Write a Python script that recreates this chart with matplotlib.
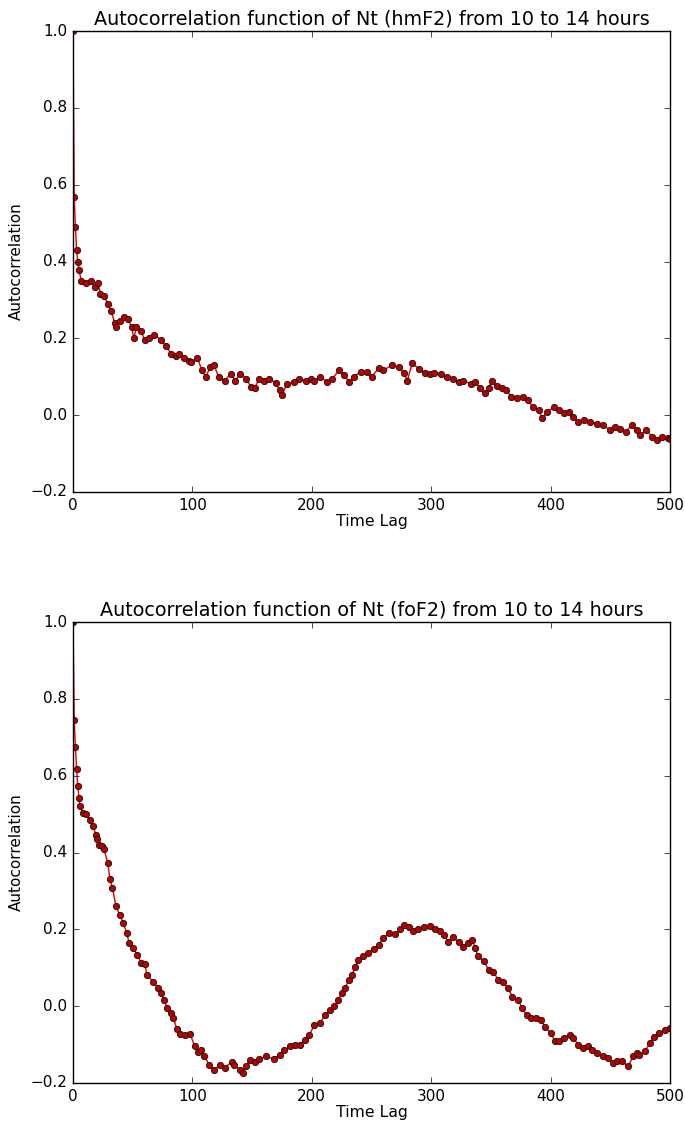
import matplotlib
matplotlib.use("Agg")
import matplotlib.pyplot as plt

# autocorrelation of Nt (hmF2), 10-14 h
lags_hm = [0, 1, 2, 3, 4, 5, 7, 11, 15, 18, 21, 23, 26, 29, 32, 35, 36, 39, 43, 46,
           49, 51, 53, 57, 60, 64, 68, 74, 78, 82, 86, 89, 93, 97, 99, 104, 108, 111,
           115, 118, 122, 127, 132, 136, 140, 145, 149, 152, 156, 160, 164, 170, 173,
           175, 179, 185, 189, 195, 199, 202, 207, 213, 217, 223, 227, 231, 235, 241,
           246, 250, 256, 260, 267, 273, 277, 280, 284, 290, 295, 299, 302, 308, 313,
           318, 323, 327, 333, 337, 341, 345, 348, 351, 355, 359, 363, 367, 372, 377,
           381, 385, 390, 393, 397, 403, 407, 411, 415, 419, 423, 428, 433, 439, 444,
           450, 454, 458, 463, 468, 472, 475, 480, 485, 489, 493, 498, 500]
acf_hm = [1.0, 0.567, 0.489, 0.43, 0.40, 0.377, 0.35, 0.343, 0.35, 0.333, 0.343, 0.316,
          0.31, 0.29, 0.27, 0.24, 0.23, 0.245, 0.255, 0.25, 0.23, 0.20, 0.23, 0.22,
          0.195, 0.20, 0.21, 0.195, 0.18, 0.16, 0.155, 0.16, 0.15, 0.14, 0.138, 0.15,
          0.117, 0.10, 0.125, 0.13, 0.10, 0.09, 0.108, 0.09, 0.108, 0.095, 0.074, 0.07,
          0.095, 0.09, 0.095, 0.083, 0.065, 0.052, 0.08, 0.087, 0.095, 0.09, 0.095,
          0.09, 0.10, 0.087, 0.095, 0.117, 0.105, 0.087, 0.10, 0.113, 0.113, 0.10,
          0.122, 0.117, 0.13, 0.125, 0.11, 0.09, 0.135, 0.12, 0.11, 0.108, 0.11, 0.108,
          0.10, 0.095, 0.087, 0.09, 0.082, 0.087, 0.07, 0.057, 0.07, 0.09, 0.075, 0.07,
          0.065, 0.048, 0.045, 0.048, 0.039, 0.022, 0.013, -0.008, 0.008, 0.022, 0.013,
          0.005, 0.009, -0.004, -0.017, -0.013, -0.017, -0.022, -0.026, -0.039, -0.03,
          -0.035, -0.043, -0.026, -0.039, -0.052, -0.039, -0.056, -0.065, -0.056,
          -0.06, -0.062]

# autocorrelation of Nt (foF2), 10-14 h
lags_fo = [0, 1, 2, 3, 4, 5, 6, 8, 11, 14, 17, 19, 20, 22, 24, 26, 29, 31, 33, 36, 39,
           42, 45, 47, 50, 54, 57, 60, 62, 67, 71, 74, 76, 79, 82, 84, 87, 90, 94, 98,
           102, 105, 107, 110, 114, 118, 123, 127, 133, 135, 140, 142, 145, 148, 152,
           156, 162, 168, 173, 177, 182, 186, 190, 194, 198, 202, 207, 211, 215, 219,
           222, 225, 228, 231, 234, 236, 239, 243, 247, 252, 256, 260, 265, 270, 274,
           277, 281, 285, 289, 294, 299, 303, 307, 311, 314, 318, 323, 327, 331, 334,
           337, 339, 344, 348, 352, 356, 360, 364, 368, 373, 376, 380, 384, 388, 392,
           395, 400, 404, 407, 411, 416, 419, 423, 427, 431, 435, 439, 444, 448, 452,
           456, 460, 465, 469, 472, 474, 479, 483, 487, 491, 496, 500]
acf_fo = [1.0, 0.745, 0.674, 0.617, 0.573, 0.543, 0.52, 0.504, 0.50, 0.486, 0.468,
          0.447, 0.435, 0.42, 0.418, 0.408, 0.374, 0.33, 0.308, 0.26, 0.238, 0.217,
          0.19, 0.165, 0.152, 0.134, 0.113, 0.11, 0.082, 0.064, 0.048, 0.035, 0.017,
          -0.005, -0.018, -0.03, -0.06, -0.072, -0.075, -0.072, -0.105, -0.12, -0.114,
          -0.13, -0.153, -0.166, -0.153, -0.16, -0.145, -0.153, -0.166, -0.173, -0.157,
          -0.14, -0.145, -0.137, -0.131, -0.137, -0.127, -0.114, -0.105, -0.10, -0.10,
          -0.088, -0.075, -0.049, -0.044, -0.023, -0.01, 0.0, 0.016, 0.034, 0.048,
          0.069, 0.082, 0.103, 0.12, 0.13, 0.139, 0.149, 0.16, 0.178, 0.19, 0.188, 0.2,
          0.212, 0.205, 0.195, 0.2, 0.205, 0.208, 0.2, 0.195, 0.186, 0.168, 0.18, 0.168,
          0.155, 0.164, 0.173, 0.152, 0.13, 0.117, 0.095, 0.09, 0.069, 0.064, 0.048,
          0.025, 0.017, -0.005, -0.023, -0.03, -0.03, -0.036, -0.053, -0.07, -0.092,
          -0.092, -0.083, -0.075, -0.083, -0.10, -0.109, -0.105, -0.114, -0.123, -0.131,
          -0.135, -0.148, -0.144, -0.144, -0.157, -0.131, -0.123, -0.127, -0.118,
          -0.096, -0.079, -0.07, -0.062, -0.058]

plt.style.use('classic')
plt.rcParams['font.family'] = ['DejaVu Sans']

fig = plt.figure(figsize=(6.85, 11.24), dpi=100, facecolor='white')

panels = [
    (lags_hm, acf_hm, 'Autocorrelation function of Nt (hmF2) from 10 to 14 hours', 0.5623),
    (lags_fo, acf_fo, 'Autocorrelation function of Nt (foF2) from 10 to 14 hours', 0.0365),
]

for lags, acf, title, bottom in panels:
    ax = fig.add_axes([0.1066, bottom, 0.8715, 0.410])
    ax.plot(lags, acf, color='#e00000', lw=1.0, marker='o', markersize=4.6,
            markerfacecolor='#b80000', markeredgecolor='black', markeredgewidth=0.5)
    ax.set_xlim(0, 500)
    ax.set_ylim(-0.2, 1.0)
    ax.set_xticks([0, 100, 200, 300, 400, 500])
    ax.set_yticks([-0.2, 0.0, 0.2, 0.4, 0.6, 0.8, 1.0])
    ax.set_yticklabels(['\u22120.2', '0.0', '0.2', '0.4', '0.6', '0.8', '1.0'])
    ax.tick_params(labelsize=11, direction='in', top=True, right=True)
    ax.set_title(title, fontsize=13.8)
    ax.set_xlabel('Time Lag', fontsize=11.3, labelpad=1)
    ax.set_ylabel('Autocorrelation', fontsize=11)

fig.savefig('out.png', dpi=100, facecolor='white')
